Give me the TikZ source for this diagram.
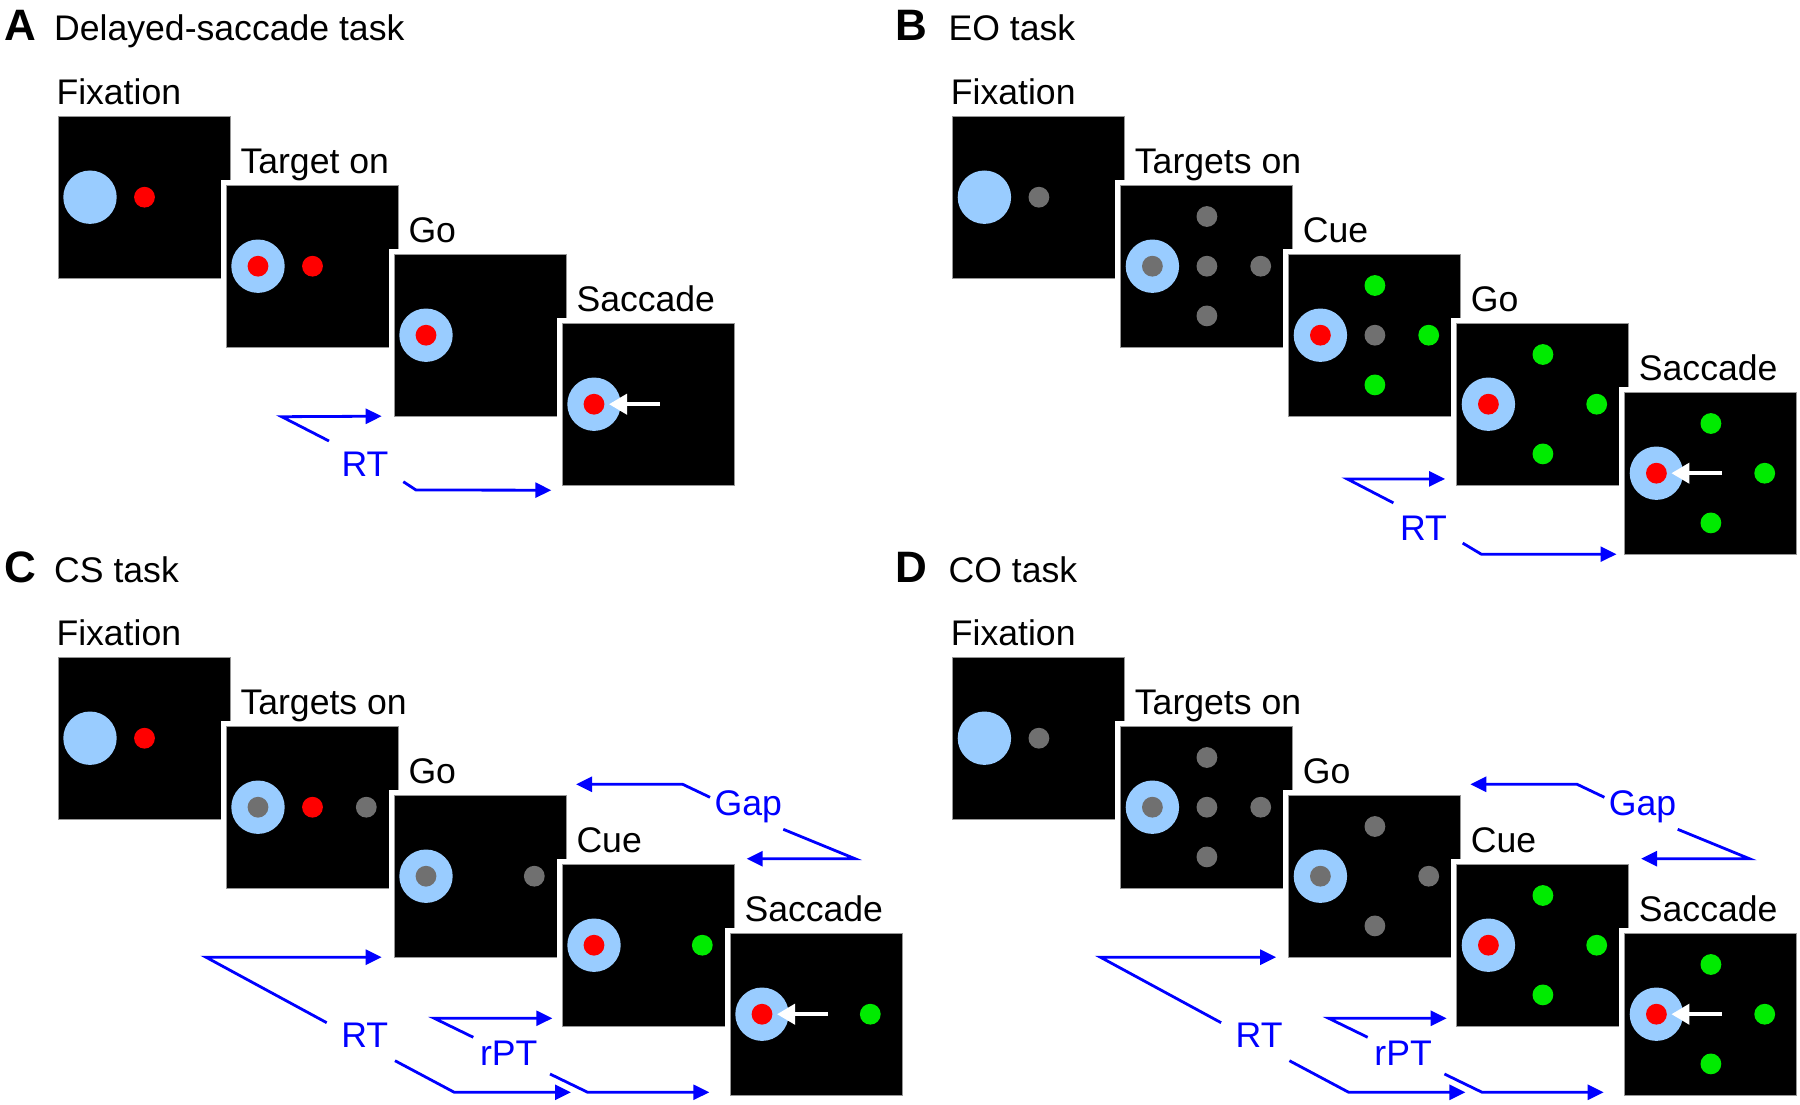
\documentclass[tikz,border=0pt]{standalone}
\usepackage{fontspec}
\setmainfont{Liberation Sans}
\usetikzlibrary{arrows.meta}

\definecolor{fixblue}{RGB}{153,204,255}
\definecolor{dotred}{RGB}{255,0,0}
\definecolor{dotgray}{RGB}{112,112,112}
\definecolor{dotgreen}{RGB}{0,235,0}
\definecolor{timeblue}{RGB}{0,0,255}
\definecolor{edgegray}{RGB}{150,150,150}

% spots, placed from the top left corner of a screen
\newcommand{\fixdisc}[1]{%
  \fill[fixblue] ([shift={(31.7,80.5)}]#1.north west) circle (26.7);}
\newcommand{\fixring}[2]{%
  \fill[fixblue] ([shift={(31.7,80.5)}]#1.north west) circle (26.7);
  \fill[#2] ([shift={(31.7,80.5)}]#1.north west) circle (10.4);}
\newcommand{\stim}[4]{%
  \fill[#4] ([shift={(#2,#3)}]#1.north west) circle (10.4);}
\newcommand{\saccarrow}[1]{%
  \draw[white, line width=4pt, -{Triangle[length=18pt,width=20pt]}]
    ([shift={(97.2,80.5)}]#1.north west) -- ([shift={(46.7,80.5)}]#1.north west);}

\begin{document}
\begin{tikzpicture}[x=1pt, y=-1pt,
  screen/.style={fill=black, draw=edgegray, line width=0.8pt, minimum width=172pt,
    minimum height=161.5pt, inner sep=0pt, outer sep=0pt, anchor=north west,
    preaction={draw=white, line width=11.4pt}},
  lbl/.style={anchor=base west, inner sep=0pt, font=\fontsize{35.6}{42}\selectfont},
  panel/.style={anchor=base west, inner sep=0pt, font=\fontsize{44}{50}\selectfont\bfseries},
  tlbl/.style={anchor=base, inner sep=0pt, text=timeblue, font=\fontsize{35.6}{42}\selectfont},
  tarr/.style={draw=timeblue, line width=2.8pt, -{Triangle[length=16pt,width=15pt]}}]
  \useasboundingbox (0,0) rectangle (1800,1105);

  % A: delayed-saccade task
  \node[panel] (letA) at (4,41) {A};
  \node[lbl] (titA) at (54,41) {Delayed-saccade task};
  \node[screen] (A0) at (58.3,116.7) {};
  \node[screen] (A1) at (226.3,185.7) {};
  \node[screen] (A2) at (394.3,254.7) {};
  \node[screen] (A3) at (562.3,323.7) {};
  \node[lbl] (labA0) at ([shift={(-2,-12.5)}]A0.north west) {Fixation};
  \node[lbl] (labA1) at ([shift={(14,-12.5)}]A1.north west) {Target on};
  \node[lbl] (labA2) at ([shift={(14,-12.5)}]A2.north west) {Go};
  \node[lbl] (labA3) at ([shift={(14,-12.5)}]A3.north west) {Saccade};
  \fixdisc{A0} \stim{A0}{86.2}{80.5}{dotred}
  \fixring{A1}{dotred} \stim{A1}{86.2}{80.5}{dotred}
  \fixring{A2}{dotred}
  \fixring{A3}{dotred} \saccarrow{A3}
  \node[tlbl] (rtA) at (365,476.7) {RT};
  \draw[tarr] ([shift={(-36,-35.7)}]rtA.base) -- ++(-47.3,-24.3) -- ([shift={(-12.6,0)}]A2.south west);
  \draw[tarr] ([shift={(38.3,5)}]rtA.base) -- ++(12.7,8.3) -- ([shift={(-11,5)}]A3.south west);

  % B: EO task
  \begin{scope}[shift={(894.4,0)}]
    \node[panel] (letB) at (0.5,41) {B};
    \node[lbl] (titB) at (54,41) {EO task};
    \node[screen] (B0) at (58.3,116.7) {};
    \node[screen] (B1) at (226.3,185.7) {};
    \node[screen] (B2) at (394.3,254.7) {};
    \node[screen] (B3) at (562.3,323.7) {};
    \node[screen] (B4) at (730.3,392.7) {};
    \node[lbl] (labB0) at ([shift={(-2,-12.5)}]B0.north west) {Fixation};
    \node[lbl] (labB1) at ([shift={(14,-12.5)}]B1.north west) {Targets on};
    \node[lbl] (labB2) at ([shift={(14,-12.5)}]B2.north west) {Cue};
    \node[lbl] (labB3) at ([shift={(14,-12.5)}]B3.north west) {Go};
    \node[lbl] (labB4) at ([shift={(14,-12.5)}]B4.north west) {Saccade};
    \fixdisc{B0} \stim{B0}{86.2}{80.5}{dotgray}
    \fixring{B1}{dotgray}
    \stim{B1}{86.2}{30.8}{dotgray} \stim{B1}{86.2}{80.5}{dotgray}
    \stim{B1}{86.2}{130.2}{dotgray} \stim{B1}{140}{80.5}{dotgray}
    \fixring{B2}{dotred}
    \stim{B2}{86.2}{30.8}{dotgreen} \stim{B2}{86.2}{80.5}{dotgray}
    \stim{B2}{86.2}{130.2}{dotgreen} \stim{B2}{140}{80.5}{dotgreen}
    \fixring{B3}{dotred}
    \stim{B3}{86.2}{30.8}{dotgreen} \stim{B3}{86.2}{130.2}{dotgreen}
    \stim{B3}{140}{80.5}{dotgreen}
    \fixring{B4}{dotred} \saccarrow{B4}
    \stim{B4}{86.2}{30.8}{dotgreen} \stim{B4}{86.2}{130.2}{dotgreen}
    \stim{B4}{140}{80.5}{dotgreen}
    \node[tlbl] (rtB) at (529.1,540.5) {RT};
    \draw[tarr] ([shift={(-30.1,-37.6)}]rtB.base) -- ++(-46.3,-24) -- ([shift={(-11.6,-6.3)}]B3.south west);
    \draw[tarr] ([shift={(39.2,2.6)}]rtB.base) -- ++(18.6,11.1) -- ([shift={(-8.2,0)}]B4.south west);
  \end{scope}

  % C: CS task
  \begin{scope}[shift={(0,541)}]
    \node[panel] (letC) at (4,41) {C};
    \node[lbl] (titC) at (54,41) {CS task};
    \node[screen] (C0) at (58.3,116.7) {};
    \node[screen] (C1) at (226.3,185.7) {};
    \node[screen] (C2) at (394.3,254.7) {};
    \node[screen] (C3) at (562.3,323.7) {};
    \node[screen] (C4) at (730.3,392.7) {};
    \node[lbl] (labC0) at ([shift={(-2,-12.5)}]C0.north west) {Fixation};
    \node[lbl] (labC1) at ([shift={(14,-12.5)}]C1.north west) {Targets on};
    \node[lbl] (labC2) at ([shift={(14,-12.5)}]C2.north west) {Go};
    \node[lbl] (labC3) at ([shift={(14,-12.5)}]C3.north west) {Cue};
    \node[lbl] (labC4) at ([shift={(14,-12.5)}]C4.north west) {Saccade};
    \fixdisc{C0} \stim{C0}{86.2}{80.5}{dotred}
    \fixring{C1}{dotgray} \stim{C1}{86.2}{80.5}{dotred} \stim{C1}{140}{80.5}{dotgray}
    \fixring{C2}{dotgray} \stim{C2}{140}{80.5}{dotgray}
    \fixring{C3}{dotred} \stim{C3}{140}{80.5}{dotgreen}
    \fixring{C4}{dotred} \stim{C4}{140}{80.5}{dotgreen} \saccarrow{C4}
    \node[tlbl] (gapC) at (748.2,274) {Gap};
    \draw[tarr] ([shift={(-38.2,-17.7)}]gapC.base) -- ++(-27.3,-13) -- ([shift={(9.7,-11.4)}]C2.north east);
    \draw[tarr] ([shift={(35.1,14.3)}]gapC.base) -- ++(71.7,29.4) -- ([shift={(12.4,-6)}]C3.north east);
    \node[tlbl] (rtC) at (364.7,506.3) {RT};
    \draw[tarr] ([shift={(-38,-24.6)}]rtC.base) -- ++(-120.7,-65.5) -- ([shift={(-12.6,0)}]C2.south west);
    \draw[tarr] ([shift={(30.3,13.4)}]rtC.base) -- ++(59.3,31.6) -- ([shift={(-159.3,-2.9)}]C4.south west);
    \node[tlbl] (rptC) at (508.7,524) {rPT};
    \draw[tarr] ([shift={(-35.4,-27.7)}]rptC.base) -- ++(-39,-19) -- ([shift={(-10,-7.9)}]C3.south west);
    \draw[tarr] ([shift={(41.3,9)}]rptC.base) -- ++(37.7,18.3) -- ([shift={(-21,-2.9)}]C4.south west);
  \end{scope}

  % D: CO task
  \begin{scope}[shift={(894.4,541)}]
    \node[panel] (letD) at (0.5,41) {D};
    \node[lbl] (titD) at (54,41) {CO task};
    \node[screen] (D0) at (58.3,116.7) {};
    \node[screen] (D1) at (226.3,185.7) {};
    \node[screen] (D2) at (394.3,254.7) {};
    \node[screen] (D3) at (562.3,323.7) {};
    \node[screen] (D4) at (730.3,392.7) {};
    \node[lbl] (labD0) at ([shift={(-2,-12.5)}]D0.north west) {Fixation};
    \node[lbl] (labD1) at ([shift={(14,-12.5)}]D1.north west) {Targets on};
    \node[lbl] (labD2) at ([shift={(14,-12.5)}]D2.north west) {Go};
    \node[lbl] (labD3) at ([shift={(14,-12.5)}]D3.north west) {Cue};
    \node[lbl] (labD4) at ([shift={(14,-12.5)}]D4.north west) {Saccade};
    \fixdisc{D0} \stim{D0}{86.2}{80.5}{dotgray}
    \fixring{D1}{dotgray}
    \stim{D1}{86.2}{30.8}{dotgray} \stim{D1}{86.2}{80.5}{dotgray}
    \stim{D1}{86.2}{130.2}{dotgray} \stim{D1}{140}{80.5}{dotgray}
    \fixring{D2}{dotgray}
    \stim{D2}{86.2}{30.8}{dotgray} \stim{D2}{86.2}{130.2}{dotgray}
    \stim{D2}{140}{80.5}{dotgray}
    \fixring{D3}{dotred}
    \stim{D3}{86.2}{30.8}{dotgreen} \stim{D3}{86.2}{130.2}{dotgreen}
    \stim{D3}{140}{80.5}{dotgreen}
    \fixring{D4}{dotred} \saccarrow{D4}
    \stim{D4}{86.2}{30.8}{dotgreen} \stim{D4}{86.2}{130.2}{dotgreen}
    \stim{D4}{140}{80.5}{dotgreen}
    \node[tlbl] (gapD) at (748.2,274) {Gap};
    \draw[tarr] ([shift={(-38.2,-17.7)}]gapD.base) -- ++(-27.3,-13) -- ([shift={(9.7,-11.4)}]D2.north east);
    \draw[tarr] ([shift={(35.1,14.3)}]gapD.base) -- ++(71.7,29.4) -- ([shift={(12.4,-6)}]D3.north east);
    \node[tlbl] (rtD) at (364.7,506.3) {RT};
    \draw[tarr] ([shift={(-38,-24.6)}]rtD.base) -- ++(-120.7,-65.5) -- ([shift={(-12.6,0)}]D2.south west);
    \draw[tarr] ([shift={(30.3,13.4)}]rtD.base) -- ++(59.3,31.6) -- ([shift={(-159.3,-2.9)}]D4.south west);
    \node[tlbl] (rptD) at (508.7,524) {rPT};
    \draw[tarr] ([shift={(-35.4,-27.7)}]rptD.base) -- ++(-39,-19) -- ([shift={(-10,-7.9)}]D3.south west);
    \draw[tarr] ([shift={(41.3,9)}]rptD.base) -- ++(37.7,18.3) -- ([shift={(-21,-2.9)}]D4.south west);
  \end{scope}
\end{tikzpicture}
\end{document}
